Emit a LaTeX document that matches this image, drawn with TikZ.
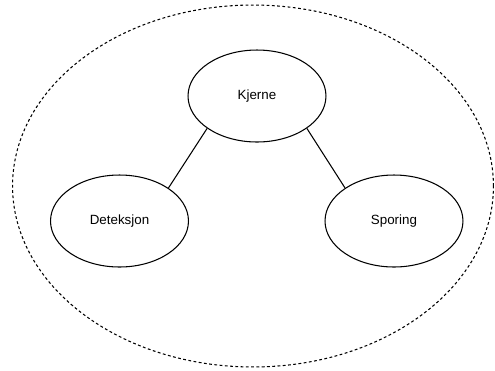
\documentclass[tikz,border=0pt]{standalone}
\usepackage{fontspec}
\setmainfont{Liberation Sans}
\usetikzlibrary{shapes.geometric}

\begin{document}
\begin{tikzpicture}[x=0.02cm,y=-0.02cm]
      \tikzstyle{part}=[shape=ellipse,draw=black,line width=0.6pt,inner sep=0pt,minimum width=2.76cm,minimum height=1.84cm,font=\fontsize{7.6}{9}\selectfont];
      \tikzstyle{system}=[shape=ellipse,draw=black,line width=0.6pt,dash pattern=on 1.6pt off 1.4pt,minimum width=9.62cm,minimum height=7.24cm];

      \useasboundingbox (0,0) rectangle (495,370);

      \node[system](S) at (253,186) {};

      \node[part](K) at (257,96) {Kjerne};
      \node[part](D) at (119.5,221) {Deteksjon};
      \node[part](P) at (394,221) {Sporing};


      \draw[line width=0.6pt] (K.213) -- (D.34);
      \draw[line width=0.6pt] (K.327) -- (P.146);

    \end{tikzpicture}
\end{document}
